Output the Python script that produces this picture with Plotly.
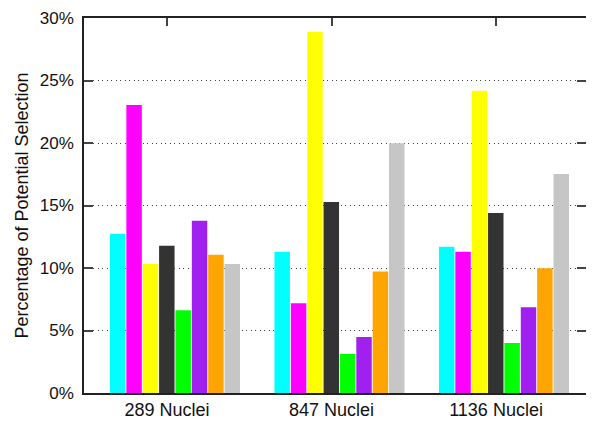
import plotly.graph_objects as go

categories = ["289 Nuclei", "847 Nuclei", "1136 Nuclei"]
series_names = ["S1", "S2", "S3", "S4", "S5", "S6", "S7", "S8"]
series_colors = ["#00ffff", "#ff00ff", "#ffff00", "#333333", "#00ff00", "#a020f0", "#ffa500", "#c6c6c6"]
s1 = [12.74, 11.31, 11.71]
s2 = [23.05, 7.18, 11.31]
s3 = [10.33, 28.88, 24.19]
s4 = [11.79, 15.29, 14.41]
s5 = [6.62, 3.12, 4.00]
s6 = [13.78, 4.48, 6.86]
s7 = [11.07, 9.72, 9.99]
s8 = [10.33, 19.98, 17.51]
series_values = [s1, s2, s3, s4, s5, s6, s7, s8]
y_tick_vals = [0, 5, 10, 15, 20, 25, 30]
y_tick_text = ["0%", "5%", "10%", "15%", "20%", "25%", "30%"]

FONT = "Liberation Sans, Arial, sans-serif"
xpos = list(range(len(categories)))
slot = 0.0995
start = -0.347
bar_w = 0.094

fig = go.Figure()
for i, (name, vals, col) in enumerate(zip(series_names, series_values, series_colors)):
    fig.add_trace(go.Bar(
        x=xpos, y=vals, name=name,
        marker=dict(color=col, line=dict(width=0)),
        width=bar_w, offset=start + i * slot,
        showlegend=False,
    ))

# dummy trace for top axis ticks
fig.add_trace(go.Scatter(x=[], y=[], xaxis="x2", showlegend=False))

# page has an 8px body margin: figure is sized/offset to compensate
fig.update_layout(
    width=586, height=413,
    margin=dict(l=76, r=8, t=10, b=28),
    paper_bgcolor="white", plot_bgcolor="white",
    barmode="overlay",
    font=dict(family=FONT, size=18, color="#111111"),
    xaxis=dict(
        range=[-0.505, 2.547], tickmode="array", tickvals=xpos, ticktext=categories,
        ticks="", showgrid=False, zeroline=False, automargin=False,
        showline=True, linecolor="#222222", linewidth=1.5, mirror=True,
        tickfont=dict(size=18, family=FONT),
    ),
    xaxis2=dict(
        range=[-0.505, 2.547], tickmode="array", tickvals=xpos, overlaying="x", side="top",
        ticks="inside", ticklen=8, tickcolor="#444444", tickwidth=1.5,
        showticklabels=False, showgrid=False, zeroline=False, showline=False,
        anchor="y", automargin=False,
    ),
    yaxis=dict(
        range=[0, 30], tickmode="array", tickvals=y_tick_vals, ticktext=y_tick_text,
        ticks="inside", ticklen=9, tickcolor="#444444", tickwidth=1.5,
        showline=True, linecolor="#222222", linewidth=1.5, mirror="ticks",
        showgrid=True, gridcolor="#444444", griddash="1px,3.5px", gridwidth=1,
        zeroline=False, automargin=False, ticklabeloverflow="allow",
        tickfont=dict(size=17, family=FONT),
        ticklabelstandoff=5,
        title=dict(text="Percentage of Potential Selection", font=dict(size=18, family=FONT), standoff=7),
    ),
)

fig.write_html("out.html")
